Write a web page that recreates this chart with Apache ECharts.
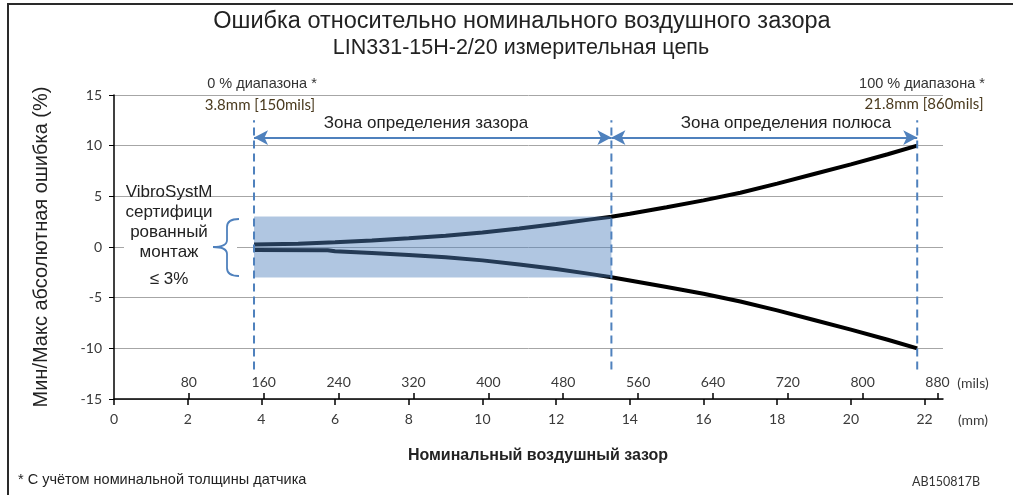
<!DOCTYPE html>
<html>
<head>
<meta charset="utf-8">
<script src="https://cdn.jsdelivr.net/npm/echarts@6/dist/echarts.min.js"></script>
<style>
html,body{margin:0;padding:0;background:#fff;}
#chart{width:1013px;height:495px;}
</style>
</head>
<body>
<div id="chart"></div>
<script>
// ---- data ----
const mmTicks = [0, 2, 4, 6, 8, 10, 12, 14, 16, 18, 20, 22];
const milsTicks = [80, 160, 240, 320, 400, 480, 560, 640, 720, 800, 880];
const yTicks = [-15, -10, -5, 0, 5, 10, 15];
const upperX = [3.8, 5.0, 6, 7, 8, 9, 10, 11, 12, 13, 13.5, 14, 15, 16, 17, 18, 19, 20, 21, 21.8];
const upperErr = [0.25, 0.32, 0.47, 0.65, 0.86, 1.1, 1.42, 1.82, 2.28, 2.75, 2.98, 3.28, 3.92, 4.6, 5.35, 6.25, 7.2, 8.15, 9.15, 10.0];
const lowerX = [3.8, 5.8, 6, 7, 8, 9, 10, 11, 12, 13, 13.5, 14, 15, 16, 17, 18, 19, 20, 21, 21.8];
const lowerErr = [-0.3, -0.32, -0.42, -0.6, -0.8, -1.02, -1.32, -1.72, -2.17, -2.7, -2.98, -3.3, -3.95, -4.62, -5.38, -6.25, -7.2, -8.15, -9.15, -10.0];
const zoneBounds = [3.8, 13.5, 21.8];      // mm: 0 %, gap/pole boundary, 100 %
const certBand = [-3, 3];                  // certified mounting band (%)
const markerSpan = [-12.1, 12.5];          // vertical extent of boundary markers (%)
const arrowLevel = 10.8;                   // zone arrows (%)
const mmMax = 22.5;
const milsPerMm = 1 / 0.0254;

const pair = (xs, ys) => xs.map((x, i) => [x, ys[i]]);

const chart = echarts.init(document.getElementById('chart'));
const blue = '#4f81bd';
const labelFont = 'Lato, "Open Sans", sans-serif';
const mainFont = '"Liberation Sans", Arial, sans-serif';

const series = [
  {type: 'line', data: pair(upperX, upperErr), symbol: 'none', lineStyle: {color: '#000', width: 4}, z: 3, silent: true},
  {type: 'line', data: pair(lowerX, lowerErr), symbol: 'none', lineStyle: {color: '#000', width: 4}, z: 3, silent: true},
  {type: 'line', data: [], z: 10, silent: true,
    markArea: {silent: true, z: 10, itemStyle: {color: 'rgba(79,129,189,0.45)'},
      data: [[{coord: [zoneBounds[0], certBand[1]]}, {coord: [zoneBounds[1], certBand[0]]}]]}},
  {type: 'line', data: [], z: 12, silent: true,
    markLine: {silent: true, z: 12, symbol: ['arrow', 'arrow'], symbolSize: [11, 14],
      lineStyle: {color: blue, width: 2, type: 'solid'}, label: {show: false},
      data: [
        [{coord: [zoneBounds[0], arrowLevel]}, {coord: [zoneBounds[1], arrowLevel]}],
        [{coord: [zoneBounds[1], arrowLevel]}, {coord: [zoneBounds[2], arrowLevel]}]
      ]}}
];
zoneBounds.forEach(b => {
  series.push({type: 'line', data: [[b, markerSpan[0]], [b, markerSpan[1]]],
    symbol: 'none', lineStyle: {color: blue, width: 2, type: [8, 5]}, z: 12, silent: true});
});
series.forEach(s => { s.xAxisIndex = 0; s.yAxisIndex = 0; });

function txt(x, y, text, font, fill, align, z) {
  return {type: 'text', x: x, y: y, z: z || 20, silent: true,
    style: {text: text, font: font, fill: fill || '#222', align: align || 'center', verticalAlign: 'middle'}};
}
function bez(x1, y1, cx, cy, x2, y2) {
  return {type: 'bezierCurve', z: 20, silent: true, shape: {x1: x1, y1: y1, cpx1: cx, cpy1: cy, x2: x2, y2: y2},
    style: {fill: 'none', stroke: blue, lineWidth: 1.8}};
}
function seg(x1, y1, x2, y2) {
  return {type: 'line', z: 20, silent: true, shape: {x1: x1, y1: y1, x2: x2, y2: y2},
    style: {stroke: blue, lineWidth: 1.8}};
}

const option = {
  animation: false,
  backgroundColor: '#fff',
  grid: {left: 114, right: 70, top: 95, bottom: 96},
  xAxis: [
    {type: 'value', min: 0, max: mmMax, position: 'bottom',
      axisLine: {show: true, onZero: false, lineStyle: {color: '#000', width: 1.5}},
      axisTick: {show: true, inside: false, length: 6, lineStyle: {color: '#000', width: 1.5}, customValues: mmTicks},
      axisLabel: {show: true, margin: 13, color: '#3a3a3a', fontFamily: labelFont, fontSize: 14, customValues: mmTicks},
      splitLine: {show: false}},
    {type: 'value', min: 0, max: mmMax * milsPerMm, position: 'bottom',
      axisLine: {show: false, onZero: false},
      axisTick: {show: true, inside: true, length: 6, lineStyle: {color: '#000', width: 1.5}, customValues: milsTicks},
      axisLabel: {show: true, inside: true, margin: 10, color: '#3a3a3a', fontFamily: labelFont, fontSize: 14, customValues: milsTicks},
      splitLine: {show: false}}
  ],
  yAxis: {type: 'value', min: -15, max: 15, interval: 5,
    name: 'Мин/Макс абсолютная ошибка (%)', nameLocation: 'middle', nameGap: 63,
    nameTextStyle: {fontFamily: mainFont, fontSize: 20, color: '#222'},
    axisLine: {show: true, lineStyle: {color: '#000', width: 1.5}},
    axisTick: {show: true, inside: false, length: 5, lineStyle: {color: '#000', width: 1}},
    axisLabel: {margin: 12, color: '#3a3a3a', fontFamily: labelFont, fontSize: 14, customValues: yTicks},
    splitLine: {show: true, lineStyle: {color: '#a6a6a6', width: 1}}},
  series: series,
  graphic: [
    {type: 'rect', shape: {x: 8, y: 4, width: 1200, height: 600}, style: {fill: 'none', stroke: '#2a2a2a', lineWidth: 2}, silent: true, z: 0},
    txt(522, 22, 'Ошибка относительно номинального воздушного зазора', '23.5px ' + mainFont),
    txt(521, 48, 'LIN331-15H-2/20 измерительная цепь', '21.5px ' + mainFont),
    txt(262, 84, '0 % диапазона *', '14.5px ' + mainFont, '#333'),
    txt(260, 105, '3.8mm [150mils]', '15px ' + labelFont, '#4a3a1e'),
    txt(922, 84, '100 % диапазона *', '14.5px ' + mainFont, '#333'),
    txt(924, 104, '21.8mm [860mils]', '15px ' + labelFont, '#4a3a1e'),
    txt(426, 123, 'Зона определения зазора', '17px ' + mainFont),
    txt(786, 123, 'Зона определения полюса', '17px ' + mainFont),
    {type: 'rect', shape: {x: 124, y: 222, width: 113, height: 50}, style: {fill: '#fff'}, z: 15, silent: true},
    txt(169, 192, 'VibroSystM', '17px ' + mainFont),
    txt(169, 212, 'сертифици', '17px ' + mainFont),
    txt(169, 232, 'рованный', '17px ' + mainFont),
    txt(169, 252, 'монтаж', '17px ' + mainFont),
    txt(169, 279, '≤ 3%', '17px ' + mainFont),
    bez(239, 219, 227, 219, 227, 227),
    seg(227, 227, 227, 240),
    bez(227, 240, 227, 247, 213, 247),
    bez(213, 247, 227, 247, 227, 254),
    seg(227, 254, 227, 268),
    bez(227, 268, 227, 276, 239, 276),
    txt(973, 383, '(mils)', '14px ' + labelFont, '#3a3a3a'),
    txt(973, 420, '(mm)', '14px ' + labelFont, '#3a3a3a'),
    txt(538, 456, 'Номинальный воздушный зазор', 'bold 16px ' + mainFont),
    txt(18, 480, '* С учётом номинальной толщины датчика', '14.5px ' + mainFont, '#222', 'left'),
    txt(946, 482, 'AB150817B', '12.5px ' + labelFont, '#333')
  ]
};
chart.setOption(option);
</script>
</body>
</html>
